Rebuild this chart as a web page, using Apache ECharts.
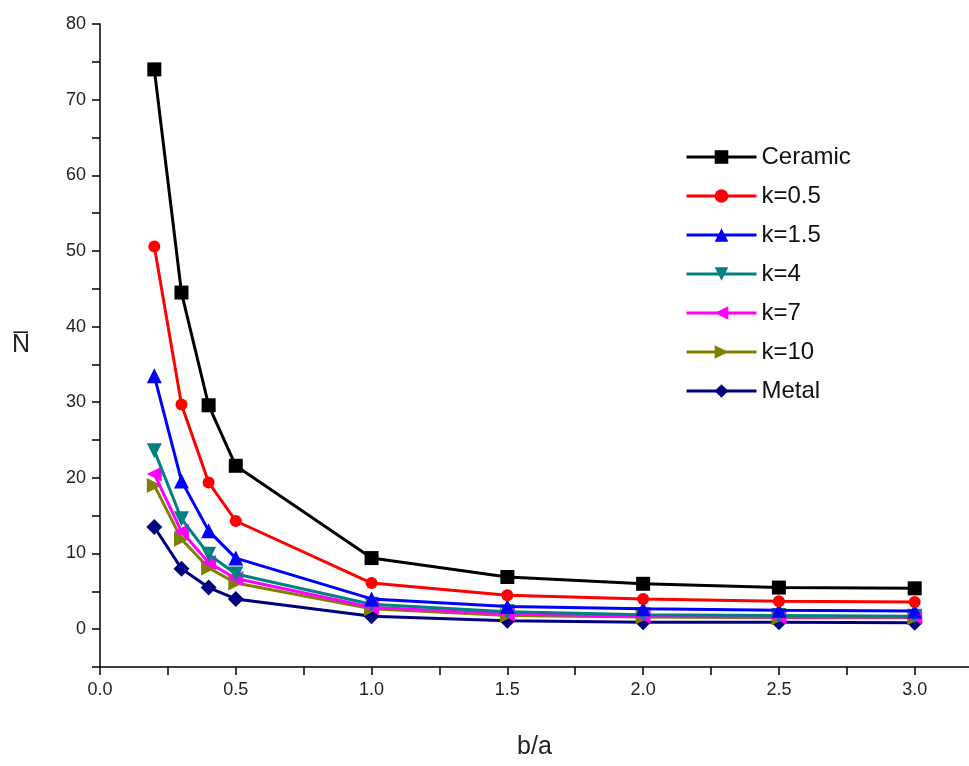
<!DOCTYPE html>
<html>
<head>
<meta charset="utf-8">
<title>N vs b/a</title>
<script src="https://cdn.jsdelivr.net/npm/echarts@6/dist/echarts.min.js"></script>
<style>
  html, body { margin: 0; padding: 0; background: #fff; }
  #main { width: 969px; height: 766px; }
</style>
</head>
<body>
<div id="main"></div>
<script>
// b/a values
var ratios = [0.2, 0.3, 0.4, 0.5, 1.0, 1.5, 2.0, 2.5, 3.0];

// values
var ceramic = [74.0, 44.5, 29.6, 21.6, 9.4, 6.9, 6.0, 5.5, 5.4];
var k05     = [50.6, 29.7, 19.4, 14.3, 6.1, 4.5, 4.0, 3.7, 3.6];
var k15     = [33.5, 19.6, 13.0, 9.4, 4.0, 3.0, 2.7, 2.5, 2.4];
var k4      = [23.6, 14.6, 9.9, 7.3, 3.3, 2.3, 1.9, 1.8, 1.7];
var k7      = [20.5, 12.9, 8.8, 6.7, 2.9, 2.0, 1.7, 1.6, 1.6];
var k10     = [19.0, 11.9, 8.1, 6.1, 2.7, 1.8, 1.6, 1.5, 1.5];
var metal   = [13.5, 8.0, 5.5, 4.0, 1.7, 1.1, 0.9, 0.9, 0.85];

var names  = ['Ceramic', 'k=0.5', 'k=1.5', 'k=4', 'k=7', 'k=10', 'Metal'];
var values = [ceramic, k05, k15, k4, k7, k10, metal];
var colors = ['#000000', '#ff0000', '#0000ff', '#008080', '#ff00ff', '#808000', '#000080'];
var symbols = ['rect', 'circle', 'triangle', 'triangle', 'triangle', 'triangle', 'diamond'];
var rotates = [0, 0, 0, 180, 90, -90, 0];
var sizes = [14, 12, 15, 15, 15, 15, 16];

function pairs(ys) {
  var out = [];
  for (var i = 0; i < ratios.length; i++) out.push([ratios[i], ys[i]]);
  return out;
}

var series = [];
for (var i = 0; i < names.length; i++) {
  series.push({
    name: names[i],
    type: 'line',
    data: pairs(values[i]),
    symbol: symbols[i],
    symbolRotate: rotates[i],
    symbolSize: sizes[i],
    showAllSymbol: true,
    lineStyle: { color: colors[i], width: 3 },
    itemStyle: { color: colors[i] },
    z: 10 - i
  });
}

var font = 'Liberation Sans, Arial, sans-serif';
var myChart = echarts.init(document.getElementById('main'));
var option = {
  backgroundColor: '#fff',
  animation: false,
  grid: { left: 100, top: 24, right: 0, bottom: 99 },
  legend: {
    orient: 'vertical',
    left: 680,
    top: 140,
    itemWidth: 70,
    itemHeight: 17,
    itemGap: 15,
    lineStyle: { width: 3 },
    textStyle: { fontSize: 24, color: '#111', fontFamily: font },
    data: names
  },
  xAxis: {
    type: 'value',
    min: 0,
    max: 3.2,
    interval: 0.25,
    name: 'b/a',
    nameLocation: 'middle',
    nameGap: 68,
    nameTextStyle: { fontSize: 25, color: '#222', fontFamily: font },
    axisLine: { onZero: false, lineStyle: { color: '#000', width: 1.5 } },
    axisTick: { show: true, length: 8, lineStyle: { color: '#000', width: 1.5 } },
    axisLabel: {
      showMaxLabel: false,
      margin: 14,
      fontSize: 18,
      color: '#222',
      fontFamily: font,
      formatter: function (v) {
        return Math.abs(v * 2 - Math.round(v * 2)) < 1e-6 ? v.toFixed(1) : '';
      }
    },
    splitLine: { show: false }
  },
  yAxis: {
    type: 'value',
    min: -5,
    max: 80,
    interval: 5,
    name: 'N\u0305',
    nameLocation: 'middle',
    nameRotate: 0,
    nameGap: 70,
    nameTextStyle: { fontSize: 25, color: '#222', fontFamily: font },
    axisLine: { show: true, onZero: false, lineStyle: { color: '#000', width: 1.5 } },
    axisTick: { show: true, length: 8, lineStyle: { color: '#000', width: 1.5 } },
    axisLabel: {
      margin: 14,
      fontSize: 18,
      color: '#222',
      fontFamily: font,
      formatter: function (v) {
        return v % 10 === 0 ? String(v) : '';
      }
    },
    splitLine: { show: false }
  },
  series: series
};
myChart.setOption(option);
</script>
</body>
</html>
